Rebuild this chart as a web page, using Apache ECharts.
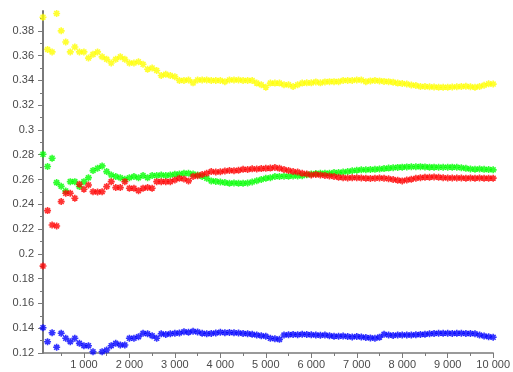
<!DOCTYPE html>
<html>
<head>
<meta charset="utf-8">
<script src="https://cdn.jsdelivr.net/npm/echarts@6/dist/echarts.min.js"></script>
<style>
  html, body { margin: 0; padding: 0; background: #fff; }
  #chart { width: 513px; height: 372px; }
</style>
</head>
<body>
<div id="chart"></div>
<script>
// one sample every 100 steps, from 100 to 10 000
const yellowValues = [
  0.391, 0.365, 0.363, 0.394, 0.380, 0.371, 0.363, 0.367, 0.363, 0.363,
  0.358, 0.361, 0.363, 0.359, 0.357, 0.354, 0.357, 0.359, 0.357, 0.354,
  0.354, 0.355, 0.353, 0.349, 0.350, 0.348, 0.344, 0.345, 0.344, 0.343,
  0.340, 0.340, 0.3404, 0.338, 0.3404, 0.3404, 0.3404, 0.340, 0.340, 0.340,
  0.339, 0.3404, 0.3404, 0.3404, 0.340, 0.340, 0.340, 0.3378, 0.3364, 0.3345,
  0.3378, 0.3378, 0.3378, 0.3364, 0.3364, 0.335, 0.3364, 0.3378, 0.338, 0.338,
  0.3388, 0.338, 0.3388, 0.339, 0.339, 0.339, 0.340, 0.340, 0.340, 0.3404,
  0.3404, 0.339, 0.3396, 0.340, 0.3396, 0.3392, 0.339, 0.3386, 0.3378, 0.3375,
  0.337, 0.3362, 0.3358, 0.335, 0.335, 0.3348, 0.3346, 0.3345, 0.3345, 0.3345,
  0.3346, 0.3348, 0.335, 0.3352, 0.3348, 0.3345, 0.335, 0.336, 0.3372, 0.337
]
const greenValues = [
  0.2804, 0.2705, 0.2772, 0.2575, 0.2545, 0.2508, 0.2583, 0.2583, 0.2543, 0.2583,
  0.2615, 0.2672, 0.2691, 0.2710, 0.2664, 0.2637, 0.2624, 0.2615, 0.2602, 0.2615,
  0.2624, 0.2615, 0.2632, 0.2615, 0.2632, 0.2632, 0.2637, 0.2632, 0.2637, 0.2643,
  0.2645, 0.2651, 0.2651, 0.2645, 0.2637, 0.2625, 0.2610, 0.2589, 0.2585, 0.2580,
  0.2575, 0.2570, 0.2572, 0.2570, 0.2570, 0.2572, 0.2580, 0.2590, 0.2600, 0.2611,
  0.2615, 0.2624, 0.2624, 0.2626, 0.2627, 0.2628, 0.2629, 0.2630, 0.2638, 0.2645,
  0.2648, 0.2650, 0.2651, 0.2651, 0.2656, 0.2656, 0.2660, 0.2664, 0.2670, 0.2675,
  0.2678, 0.2678, 0.2680, 0.2682, 0.2685, 0.2688, 0.2692, 0.2695, 0.2698, 0.2700,
  0.2702, 0.2703, 0.2703, 0.2704, 0.2702, 0.2700, 0.2700, 0.2699, 0.2699, 0.2699,
  0.2700, 0.2699, 0.2695, 0.2690, 0.2685, 0.2683, 0.2685, 0.2682, 0.2680, 0.2678
]
const redValues = [
  0.1902, 0.2349, 0.2233, 0.2225, 0.2422, 0.2489, 0.2489, 0.2449, 0.2562, 0.2522,
  0.2556, 0.2502, 0.2499, 0.2502, 0.2543, 0.2583, 0.2535, 0.2535, 0.2583, 0.2530,
  0.2530, 0.2510, 0.2530, 0.2535, 0.2530, 0.2583, 0.2583, 0.2583, 0.2583, 0.2597,
  0.2611, 0.2605, 0.2589, 0.2624, 0.2630, 0.2640, 0.2650, 0.2664, 0.2660, 0.2662,
  0.2668, 0.2672, 0.2670, 0.2675, 0.2683, 0.2680, 0.2686, 0.2685, 0.2688, 0.2690,
  0.2692, 0.2697, 0.2690, 0.2680, 0.2672, 0.2664, 0.2660, 0.2651, 0.2645, 0.2637,
  0.2640, 0.2637, 0.2632, 0.2628, 0.2624, 0.2619, 0.2615, 0.2612, 0.2615, 0.2614,
  0.2612, 0.2611, 0.2609, 0.2610, 0.2612, 0.2610, 0.2606, 0.2600, 0.2595, 0.2589,
  0.2596, 0.2603, 0.2610, 0.2615, 0.2619, 0.2619, 0.2620, 0.2619, 0.2615, 0.2613,
  0.2612, 0.2613, 0.2612, 0.2611, 0.2612, 0.2611, 0.2612, 0.2611, 0.2611, 0.2611
]
const blueValues = [
  0.1404, 0.1291, 0.1364, 0.1246, 0.1359, 0.1319, 0.1291, 0.1319, 0.1278, 0.1259,
  0.1259, 0.1210, 0.1198, 0.1210, 0.1224, 0.1259, 0.1278, 0.1265, 0.1265, 0.1319,
  0.1319, 0.1332, 0.1359, 0.1355, 0.1340, 0.1319, 0.1355, 0.1350, 0.1355, 0.1359,
  0.1362, 0.1372, 0.1368, 0.1375, 0.1370, 0.1360, 0.1355, 0.1358, 0.1362, 0.1367,
  0.1364, 0.1366, 0.1364, 0.1362, 0.1358, 0.1356, 0.1352, 0.1345, 0.1340, 0.1335,
  0.1319, 0.1315, 0.1310, 0.1345, 0.1348, 0.1350, 0.1348, 0.1351, 0.1350, 0.1347,
  0.1345, 0.1343, 0.1345, 0.1340, 0.1336, 0.1335, 0.1337, 0.1333, 0.1330, 0.1334,
  0.1330, 0.1325, 0.1322, 0.1319, 0.1328, 0.1351, 0.1345, 0.1342, 0.1345, 0.1346,
  0.1346, 0.1345, 0.1348, 0.1350, 0.1352, 0.1355, 0.1358, 0.1359, 0.1360, 0.1359,
  0.1358, 0.1360, 0.1359, 0.1358, 0.1357, 0.1356, 0.1345, 0.1338, 0.1332, 0.1327
]
const stepSize = 100
const xMajorTicks = [1000, 2000, 3000, 4000, 5000, 6000, 7000, 8000, 9000, 10000]
const xMinorTicks = [500, 1500, 2500, 3500, 4500, 5500, 6500, 7500, 8500, 9500]
const yMajorTicks = [0.12, 0.14, 0.16, 0.18, 0.2, 0.22, 0.24, 0.26, 0.28, 0.3, 0.32, 0.34, 0.36, 0.38]
const yMinorTicks = [0.13, 0.15, 0.17, 0.19, 0.21, 0.23, 0.25, 0.27, 0.29, 0.31, 0.33, 0.35, 0.37, 0.39]

const axisGray = '#7a7a7a'
const labelStyle = { color: '#4a4a4a', fontSize: 11, fontFamily: 'Liberation Sans' }
// asterisk drawn as strokes
const starPath = 'path://M0 5L10 5M5 0L5 10M1.5 1.5L8.5 8.5M1.5 8.5L8.5 1.5'

function points(values) {
  return values.map((v, i) => [(i + 1) * stepSize, v])
}

function starSeries(values, color) {
  return {
    type: 'scatter',
    data: points(values),
    symbol: starPath,
    symbolSize: 7,
    itemStyle: { color: 'none', borderColor: color, borderWidth: 1.6 },
    silent: true,
    animation: false
  }
}

function fmtThousands(v) {
  return String(v).replace(/\B(?=(\d{3})+(?!\d))/g, ' ')
}

const chart = echarts.init(document.getElementById('chart'))
chart.setOption({
  backgroundColor: '#fff',
  animation: false,
  grid: { left: 43, right: 16, top: 11, bottom: 19 },
  xAxis: [
    {
      type: 'value', min: 100, max: 10000,
      splitLine: { show: false },
      axisLine: { lineStyle: { color: axisGray, width: 1.5 } },
      axisTick: { customValues: xMajorTicks, length: 5, lineStyle: { color: axisGray } },
      axisLabel: { ...labelStyle, customValues: xMajorTicks, margin: 6, formatter: fmtThousands }
    },
    {
      type: 'value', min: 100, max: 10000, position: 'bottom',
      splitLine: { show: false },
      axisLine: { show: false },
      axisTick: { customValues: xMinorTicks, length: 3, lineStyle: { color: axisGray } },
      axisLabel: { show: false }
    }
  ],
  yAxis: [
    {
      type: 'value', min: 0.12, max: 0.396,
      splitLine: { show: false },
      axisLine: { show: true, lineStyle: { color: axisGray, width: 2 } },
      axisTick: { show: true, customValues: yMajorTicks, length: 5, lineStyle: { color: axisGray } },
      axisLabel: { ...labelStyle, customValues: yMajorTicks, margin: 9, formatter: (v) => String(+v.toFixed(2)) }
    },
    {
      type: 'value', min: 0.12, max: 0.396, position: 'left',
      splitLine: { show: false },
      axisLine: { show: false },
      axisTick: { show: true, customValues: yMinorTicks, length: 3, lineStyle: { color: axisGray } },
      axisLabel: { show: false }
    }
  ],
  series: [
    starSeries(yellowValues, '#ffff00'),
    starSeries(greenValues, '#00ff00'),
    starSeries(redValues, '#ff0000'),
    starSeries(blueValues, '#0000ff')
  ]
})
</script>
</body>
</html>
